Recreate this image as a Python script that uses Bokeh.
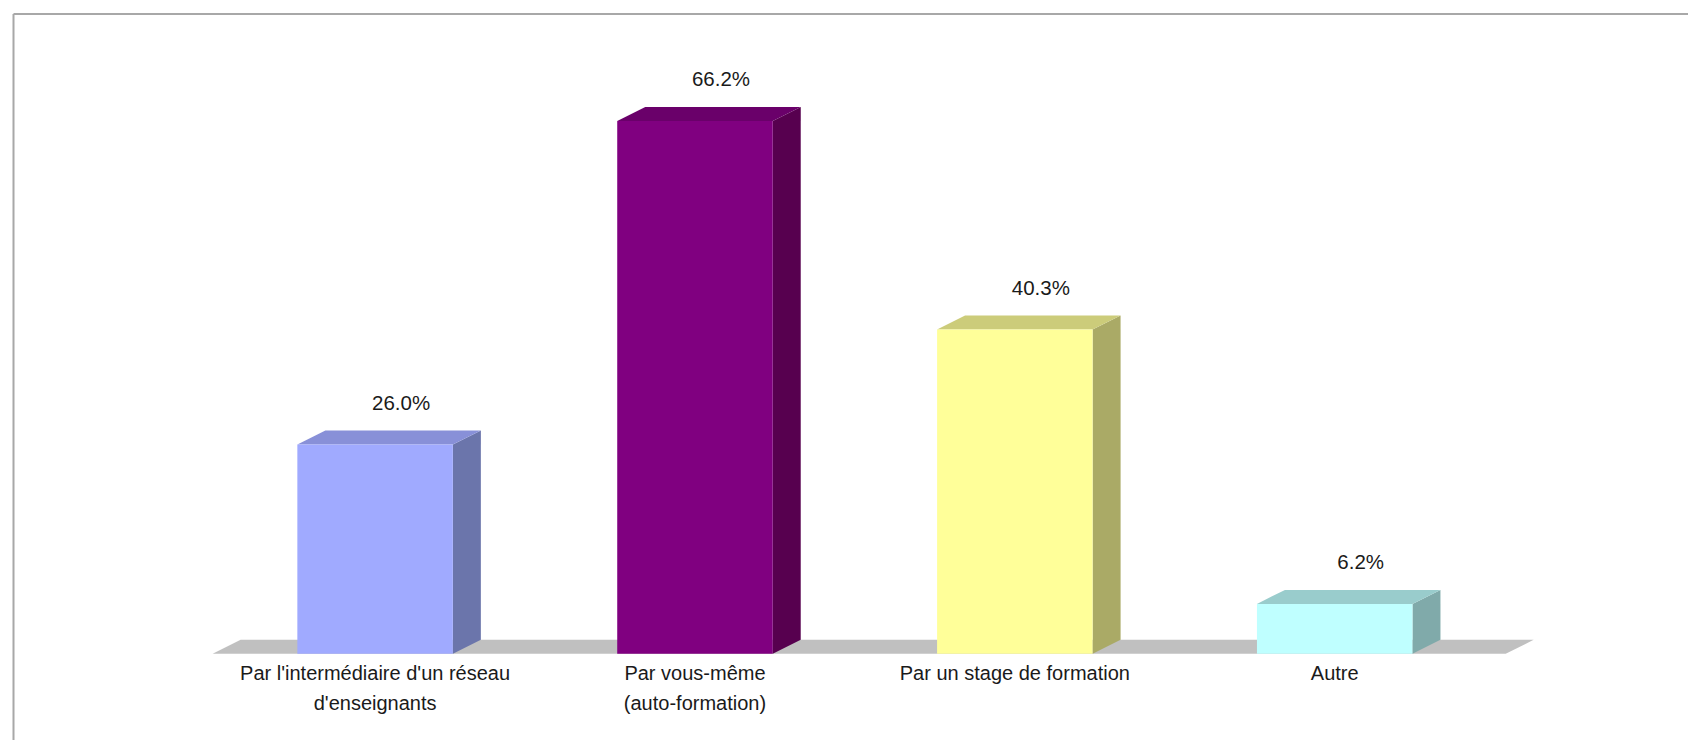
from bokeh.plotting import figure
from bokeh.models import Range1d, ColumnDataSource
from bokeh.embed import file_html
from bokeh.resources import INLINE
from bokeh.core.properties import value

# ---- data ----
categories = [
    "Par l'intermédiaire d'un réseau\nd'enseignants",
    "Par vous-même\n(auto-formation)",
    "Par un stage de formation",
    "Autre",
]
percentages = [26.0, 66.2, 40.3, 6.2]
front_colors = ["#A0AAFF", "#800080", "#FFFF99", "#BFFFFF"]
top_colors = ["#8890D8", "#6A006A", "#CCCC7A", "#99CCCC"]
side_colors = ["#6B75AB", "#57004F", "#AAAA66", "#80AAAA"]

# ---- layout constants (pixels) ----
W, H = 1688, 740
PX_X = 319.87          # px per category
PX_Y = 8.05            # px per percent
X0_PX = 374.6          # canvas x of first category centre
Y0_PX = 653.3          # canvas y of 0 %
DX = 28 / PX_X         # 3-D depth offset
DY = 14 / PX_Y
BW = 155.5 / PX_X      # bar front width

x_range = Range1d(-X0_PX / PX_X, (W - X0_PX) / PX_X)
y_range = Range1d(-(H - Y0_PX) / PX_Y, Y0_PX / PX_Y)

p = figure(width=W, height=H, x_range=x_range, y_range=y_range,
           x_axis_type=None, y_axis_type=None,
           output_backend="svg", toolbar_location=None,
           min_border=0, outline_line_color=None,
           background_fill_color="white", border_fill_color="white")

# frame (top & left edges visible)
xs0, xs1 = x_range.start, x_range.end
ys0, ys1 = y_range.start, y_range.end
bx = xs0 + 13 / PX_X
by = ys1 - 13.5 / PX_Y
p.line([bx, xs1 + 1], [by, by], line_color="#A8A8A8", line_width=2)
p.line([bx, bx], [by, ys0 - 1], line_color="#A8A8A8", line_width=2)

# floor
fl, fr = -162.5 / PX_X, 3 + 171 / PX_X
p.patch([fl, fr, fr + DX, fl + DX], [0, 0, DY, DY],
        fill_color="#C0C0C0", line_color=None)

idx = list(range(len(categories)))
lefts = [i - BW / 2 for i in idx]
rights = [i + BW / 2 for i in idx]

top_xs = [[l, r, r + DX, l + DX] for l, r in zip(lefts, rights)]
top_ys = [[v, v, v + DY, v + DY] for v in percentages]
side_xs = [[r, r + DX, r + DX, r] for r in rights]
side_ys = [[0, DY, v + DY, v] for v in percentages]

p.patches(xs=side_xs, ys=side_ys, fill_color=side_colors, line_color=None)
p.patches(xs=top_xs, ys=top_ys, fill_color=top_colors, line_color=None)
p.quad(left=lefts, right=rights, bottom=[0] * 4, top=percentages,
       fill_color=front_colors, line_color=None)

# value labels
lab_src = ColumnDataSource(dict(
    x=[i + 26 / PX_X for i in idx],
    y=[v + 42 / PX_Y for v in percentages],
    t=[f"{v:.1f}%" for v in percentages],
))
p.text(x="x", y="y", text="t", source=lab_src,
       text_font=value("Liberation Sans"), text_font_size="20.5px",
       text_color="#1A1A1A", text_align="center", text_baseline="alphabetic")

# category labels
cat_src = ColumnDataSource(dict(
    x=idx,
    y=[-7.7 / PX_Y] * 4,
    t=categories,
))
p.text(x="x", y="y", text="t", source=cat_src,
       text_font=value("Liberation Sans"), text_font_size="20px",
       text_color="#1A1A1A", text_align="center", text_baseline="top",
       text_line_height=1.37)

open("out.html", "w").write(file_html(p, INLINE))
